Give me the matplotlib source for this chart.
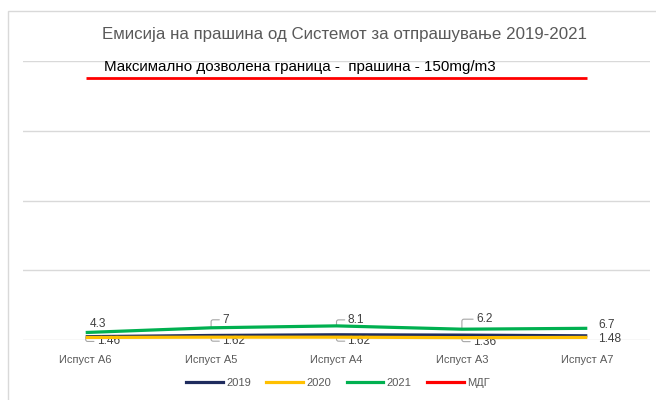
import matplotlib
matplotlib.use("Agg")
import matplotlib.pyplot as plt
from matplotlib.lines import Line2D
from matplotlib.patches import Rectangle

categories = ["Испуст А6", "Испуст А5", "Испуст А4", "Испуст А3", "Испуст А7"]
v2019 = [1.9, 2.6, 3.0, 2.8, 2.4]
v2020 = [1.46, 1.62, 1.62, 1.36, 1.48]
v2021 = [4.3, 7, 8.1, 6.2, 6.7]
mdg = [150, 150, 150, 150, 150]
series_names = ["2019", "2020", "2021", "МДГ"]

title = "Емисија на прашина од Системот за отпрашување 2019-2021"
mdg_text = "Максимално дозволена граница -  прашина - 150mg/m3"

plt.rcParams['font.family'] = ['Liberation Sans', 'DejaVu Sans']

W, H = 656, 400
fig = plt.figure(figsize=(W / 100, H / 100), dpi=100)
fig.patch.set_facecolor("white")
fig.patches.append(Rectangle((8 / W, -0.05), 1.1, 1 - 11 / H + 0.05, transform=fig.transFigure,
                             fill=False, edgecolor="#d9d9d9", linewidth=1))

ax = fig.add_axes([23 / W, 60 / H, 627 / W, 279 / H])
ax.set_xlim(-0.5, len(categories) - 0.5)
ax.set_ylim(0, 160)
ax.set_yticks([0, 40, 80, 120, 160])
ax.yaxis.grid(True, color="#d9d9d9", linewidth=1)
ax.set_axisbelow(True)
for s in ax.spines.values():
    s.set_visible(False)
ax.tick_params(axis="y", left=False, labelleft=False)
ax.tick_params(axis="x", bottom=False, colors="#595959", labelsize=8, pad=7)
ax.set_xticks(range(len(categories)))
ax.set_xticklabels(categories)

x = list(range(len(categories)))
colors = ["#1f2c5e", "#ffc000", "#00b050", "#ff0000"]
ax.plot(x, v2019, color=colors[0], lw=2.3, solid_capstyle="butt", zorder=3)
ax.plot(x, v2020, color=colors[1], lw=2.3, solid_capstyle="butt", zorder=4)
ax.plot(x, v2021, color=colors[2], lw=2.3, solid_capstyle="butt", zorder=4)
ax.plot(x, mdg, color=colors[3], lw=2.0, solid_capstyle="butt", zorder=4)

lab_kw = dict(fontsize=8.6, color="#404040", textcoords="offset pixels")
arrow = dict(arrowstyle="-", color="#a6a6a6", lw=0.8, shrinkA=0, shrinkB=0,
             connectionstyle="angle,angleA=0,angleB=90,rad=2")
# 2021 labels
green_off = [(4, 9, False), (11, 8, True), (11, 6, True), (14, 10, True), (11, 3, False)]
for i, (dx, dy, lead) in enumerate(green_off):
    ax.annotate(f"{v2021[i]:g}", (x[i], v2021[i]), xytext=(dx, dy), ha="left", va="center",
                arrowprops=arrow if lead else None, **lab_kw)
# 2020 labels
yel_off = [(11, -4, True), (11, -4, True), (11, -4, True), (11, -4, True), (11, -2, False)]
for i, (dx, dy, lead) in enumerate(yel_off):
    ax.annotate(f"{v2020[i]:g}", (x[i], v2020[i]), xytext=(dx, dy), ha="left", va="center",
                arrowprops=arrow if lead else None, **lab_kw)

fig.text(345 / W, 1 - 35 / H, title, ha="center", va="center", fontsize=12.2, color="#595959")
fig.text(104 / W, 1 - 67 / H, mdg_text, ha="left", va="center", fontsize=10.9, color="#000000")

handles = [Line2D([0], [0], color=c, lw=2.3) for c in colors]
fig.legend(handles, series_names, loc="center", bbox_to_anchor=(338 / W, 1 - 383 / H), ncol=4,
           frameon=False, fontsize=8, handlelength=3.3, handletextpad=0.3, columnspacing=1.4,
           labelcolor="#595959")

fig.savefig("out.png", dpi=100, facecolor="white")
